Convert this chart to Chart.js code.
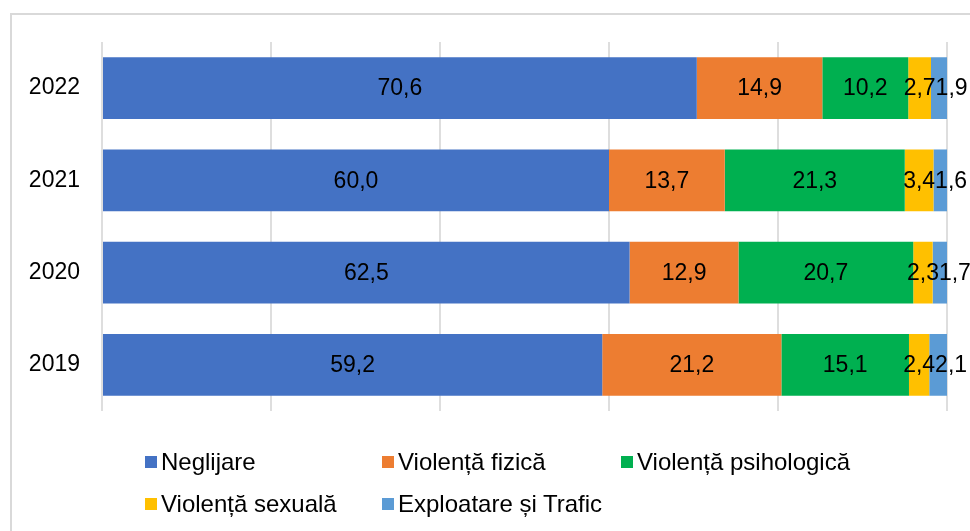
<!DOCTYPE html>
<html lang="ro">
<head>
  <meta charset="UTF-8" />
  <title>Tipuri de abuz</title>
  <script src="https://cdn.jsdelivr.net/npm/chart.js"></script>
  <style>
    body {
      margin: 0;
      background: #fff;
      font-family: 'Liberation Sans', Arial, sans-serif;
      overflow: hidden;
    }
    .wrap {
      position: relative;
      width: 970px;
      height: 531px;
    }
    .frame {
      position: absolute;
      left: 10px;
      top: 13px;
      width: 1000px;
      height: 600px;
      border: 2px solid #d9d9d9;
    }
    canvas {
      position: absolute;
      left: 0;
      top: 0;
    }
    .leg-item {
      position: absolute;
      display: flex;
      align-items: center;
      height: 28px;
      font-size: 24px;
      color: #000;
      white-space: nowrap;
    }
    .leg-box {
      width: 12px;
      height: 12px;
      margin-right: 4px;
    }
  </style>
</head>
<body>
  <div class="wrap">
    <div class="frame"></div>
    <canvas id="chart" width="970" height="531"></canvas>
    <div id="legend"></div>
  </div>

  <script>
    const years = ['2022', '2021', '2020', '2019'];
    const neglijare = [70.6, 60.0, 62.5, 59.2];
    const violentaFizica = [14.9, 13.7, 12.9, 21.2];
    const violentaPsihologica = [10.2, 21.3, 20.7, 15.1];
    const violentaSexuala = [2.7, 3.4, 2.3, 2.4];
    const exploatareTrafic = [1.9, 1.6, 1.7, 2.1];
    const seriesNames = ['Neglijare', 'Violență fizică', 'Violență psihologică', 'Violență sexuală', 'Exploatare și Trafic'];
    const seriesColors = ['#4472C4', '#ED7D31', '#00B050', '#FFC000', '#5B9BD5'];
    const xTicks = [0, 20, 40, 60, 80, 100];

    const FONT = "'Liberation Sans', Arial, sans-serif";
    const allSeries = [neglijare, violentaFizica, violentaPsihologica, violentaSexuala, exploatareTrafic];

    // 100% stacked: normalize each year to its total
    const totals = years.map((_, i) => allSeries.reduce((s, arr) => s + arr[i], 0));

    const datasets = allSeries.map((arr, k) => ({
      label: seriesNames[k],
      data: arr.map((v, i) => v / totals[i] * 100),
      raw: arr,
      backgroundColor: seriesColors[k],
      borderWidth: 0,
      barPercentage: 0.67,
      categoryPercentage: 1
    }));

    // value labels centred in each segment; a label that would overlap
    // the one before it is pushed to the right, like the original
    const valueLabels = {
      id: 'valueLabels',
      afterDatasetsDraw(chart) {
        const ctx = chart.ctx;
        ctx.save();
        ctx.font = '23px ' + FONT;
        ctx.fillStyle = '#000';
        ctx.textAlign = 'center';
        ctx.textBaseline = 'middle';
        years.forEach((_, i) => {
          let prevRight = -Infinity;
          chart.data.datasets.forEach((ds, k) => {
            const bar = chart.getDatasetMeta(k).data[i];
            const p = bar.getCenterPoint();
            const txt = ds.raw[i].toFixed(1).replace('.', ',');
            const w = ctx.measureText(txt).width;
            let x = p.x;
            if (x - w / 2 < prevRight) x = prevRight + w / 2;
            ctx.fillText(txt, x, p.y + 1);
            prevRight = x + w / 2;
          });
        });
        ctx.restore();
      }
    };

    new Chart(document.getElementById('chart'), {
      type: 'bar',
      data: { labels: years, datasets },
      options: {
        indexAxis: 'y',
        responsive: false,
        animation: false,
        layout: { padding: { left: 10, right: 23, top: 42, bottom: 120 } },
        plugins: {
          legend: { display: false },
          tooltip: { enabled: false }
        },
        scales: {
          x: {
            stacked: true,
            min: 0,
            max: 100,
            afterBuildTicks: s => { s.ticks = xTicks.map(v => ({ value: v })); },
            ticks: { display: false },
            border: { display: false },
            grid: { color: '#dedede', lineWidth: 2, drawTicks: false },
            afterFit: s => { s.height = 0; }
          },
          y: {
            stacked: true,
            border: { display: false },
            grid: { display: false, drawTicks: false },
            ticks: {
              color: '#000',
              padding: 22,
              font: { family: FONT, size: 23 }
            },
            afterFit: s => { s.width = 92; }
          }
        }
      },
      plugins: [valueLabels]
    });

    // legend laid out like the original (3 columns, 2 rows)
    const legendPos = [[145, 462], [382, 462], [621, 462], [145, 504], [382, 504]];
    const legend = document.getElementById('legend');
    seriesNames.forEach((name, k) => {
      const item = document.createElement('div');
      item.className = 'leg-item';
      item.style.left = legendPos[k][0] + 'px';
      item.style.top = (legendPos[k][1] - 14) + 'px';
      item.innerHTML = '<span class="leg-box" style="background:' + seriesColors[k] + '"></span>' + name;
      legend.appendChild(item);
    });
  </script>
</body>
</html>
